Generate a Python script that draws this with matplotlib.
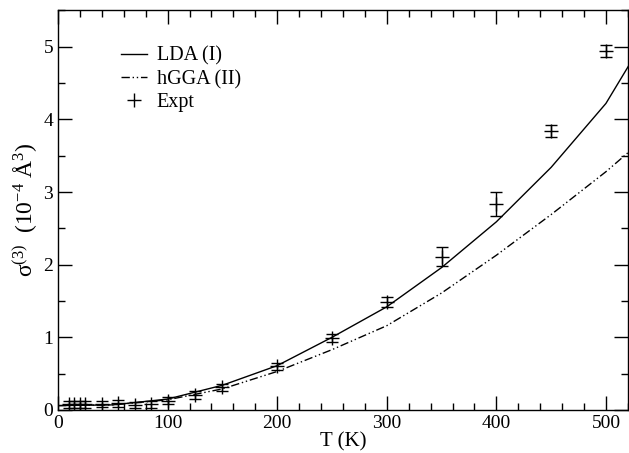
import matplotlib
matplotlib.use("Agg")
import matplotlib.pyplot as plt
from matplotlib.lines import Line2D
from matplotlib.ticker import MultipleLocator

plt.rcParams["font.family"] = ["Liberation Serif", "DejaVu Serif"]
plt.rcParams["mathtext.fontset"] = "custom"
plt.rcParams["mathtext.rm"] = "Liberation Serif"
plt.rcParams["mathtext.it"] = "Liberation Serif:italic"

# theory curves (piecewise linear)
t_lda = [0, 50, 100, 150, 200, 250, 300, 350, 400, 450, 500, 550]
s_lda = [0.06, 0.07, 0.15, 0.34, 0.61, 1.0, 1.42, 1.96, 2.59, 3.34, 4.22, 5.47]
t_hgga = [0, 50, 100, 150, 200, 250, 300, 350, 400, 450, 500, 550]
s_hgga = [0.06, 0.07, 0.14, 0.29, 0.53, 0.83, 1.16, 1.61, 2.13, 2.69, 3.28, 3.93]

# experiment
t_exp = [10, 15, 20, 25, 40, 55, 70, 85, 100, 125, 150, 200, 250, 300, 350, 400, 450, 500]
s_exp = [0.08, 0.08, 0.08, 0.08, 0.08, 0.09, 0.07, 0.08, 0.13, 0.21, 0.31, 0.60, 0.99,
         1.49, 2.11, 2.84, 3.84, 4.94]
e_exp = [0.05, 0.05, 0.05, 0.05, 0.04, 0.05, 0.04, 0.05, 0.05, 0.055, 0.05, 0.05, 0.05,
         0.07, 0.13, 0.165, 0.085, 0.08]

fig = plt.figure(figsize=(6.29, 4.53), dpi=100)
ax = fig.add_axes([0.0922, 0.095, 0.906, 0.882])

l1, = ax.plot(t_lda, s_lda, color="black", lw=1.0)
l2, = ax.plot(t_hgga, s_hgga, color="black", lw=1.0, dashes=(6, 2, 1, 2, 1, 2))
ax.errorbar(t_exp, s_exp, yerr=e_exp, fmt="+", color="black", ms=10, mew=1.0,
            elinewidth=1.0, capsize=4, capthick=1.0)
l3 = Line2D([], [], ls="none", marker="+", ms=10, mew=1.0, color="black")

ax.set_xlim(0, 520)
ax.set_ylim(0, 5.5)
ax.xaxis.set_major_locator(MultipleLocator(100))
ax.xaxis.set_minor_locator(MultipleLocator(20))
ax.yaxis.set_major_locator(MultipleLocator(1))
ax.yaxis.set_minor_locator(MultipleLocator(0.5))
ax.tick_params(which="both", direction="in", top=True, right=True, labelsize=14)
ax.tick_params(which="major", length=10, width=1.0)
ax.tick_params(which="minor", length=5, width=1.0)
for s in ax.spines.values():
    s.set_linewidth(1.0)

ax.set_xlabel("T (K)", fontsize=15, labelpad=0)
ax.set_ylabel(r"$\mathrm{σ}^{(3)}\ \ (10^{-4}\ \mathrm{\AA}^{3})$", fontsize=17, labelpad=2)

ax.legend([l1, l2, l3], ["LDA (I)", "hGGA (II)", "Expt"], loc="upper left",
          bbox_to_anchor=(0.078, 0.955), frameon=False, fontsize=14.5,
          handlelength=1.3, handletextpad=0.5, labelspacing=0.2)

fig.savefig("out.png", dpi=100)
